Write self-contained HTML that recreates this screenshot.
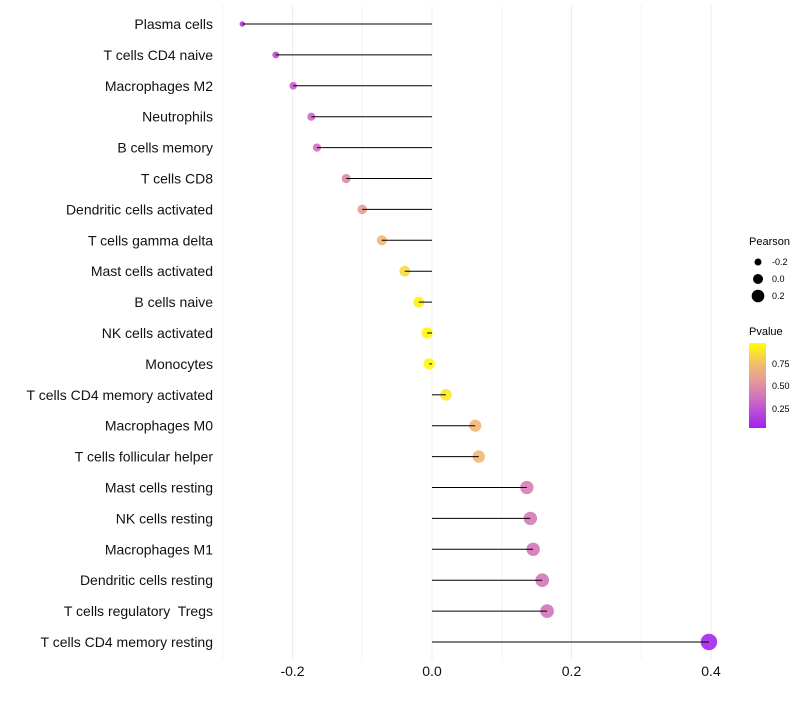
<!DOCTYPE html>
<html><head><meta charset="utf-8"><style>
body{margin:0;background:#fff;font-family:"Liberation Sans",sans-serif;}
</style></head><body>
<svg id="chart" width="800" height="700" xmlns="http://www.w3.org/2000/svg">
<defs><linearGradient id="pg" x1="0" y1="1" x2="0" y2="0">
<stop offset="0" stop-color="#a020f0"/><stop offset="0.35" stop-color="#d070c0"/><stop offset="0.55" stop-color="#e49898"/><stop offset="0.75" stop-color="#f2bc70"/><stop offset="1" stop-color="#ffff00"/></linearGradient></defs>
<g id="grid"></g><g id="marks"></g><g id="labels"></g>
<g font-size="10">
<text x="749" y="245" font-size="11">Pearson</text>
<circle cx="758" cy="262" r="3.5" fill="#000"/><text x="772" y="265" font-size="9">-0.2</text>
<circle cx="758" cy="279" r="5" fill="#000"/><text x="772" y="282" font-size="9">0.0</text>
<circle cx="758" cy="296" r="6.3" fill="#000"/><text x="772" y="299" font-size="9">0.2</text>
</g>
<g>
<text x="749" y="335" font-size="11">Pvalue</text>
<rect x="749" y="343" width="17" height="85" fill="url(#pg)"/>
<text x="772" y="367" font-size="9">0.75</text>
<text x="772" y="389" font-size="9">0.50</text>
<text x="772" y="412" font-size="9">0.25</text>
</g>
</svg>
<script>
const cells=["Plasma cells","T cells CD4 naive","Macrophages M2","Neutrophils","B cells memory","T cells CD8","Dendritic cells activated","T cells gamma delta","Mast cells activated","B cells naive","NK cells activated","Monocytes","T cells CD4 memory activated","Macrophages M0","T cells follicular helper","Mast cells resting","NK cells resting","Macrophages M1","Dendritic cells resting","T cells regulatory  Tregs","T cells CD4 memory resting"];
const pearson=[-0.272,-0.224,-0.199,-0.173,-0.165,-0.123,-0.100,-0.072,-0.039,-0.019,-0.007,-0.004,0.020,0.062,0.067,0.136,0.141,0.145,0.158,0.165,0.397];
const pvalue=[0.15,0.20,0.25,0.32,0.35,0.48,0.57,0.72,0.86,0.95,0.97,0.98,0.92,0.73,0.72,0.42,0.40,0.39,0.38,0.37,0.03];
const ticks=[-0.2,0.0,0.2,0.4];
const minor=[-0.3,-0.1,0.1,0.3];
const NS="http://www.w3.org/2000/svg";
const xs=v=>432+v*697.5;
const ys=i=>24+i*30.9;
const rs=v=>Math.sqrt(Math.max(3,32+90*v));
const stops=[[0,[160,32,240]],[0.35,[208,112,192]],[0.55,[228,152,152]],[0.75,[242,188,112]],[1,[255,255,0]]];
function col(p){for(let k=1;k<stops.length;k++){if(p<=stops[k][0]){const a=stops[k-1],b=stops[k];const t=(p-a[0])/(b[0]-a[0]);
 return `rgb(${a[1].map((c,i)=>Math.round(c+(b[1][i]-c)*t)).join(',')})`;}}return 'rgb(255,255,0)';}
function mk(tag,at,parent){const e=document.createElementNS(NS,tag);for(const k in at)e.setAttribute(k,at[k]);parent.appendChild(e);return e;}
const grid=document.getElementById('grid'),marks=document.getElementById('marks'),labels=document.getElementById('labels');
minor.forEach(t=>{const l=mk('line',{x1:xs(t),x2:xs(t),y1:5,y2:660,stroke:'#f4f4f4','stroke-width':1},grid);

});
ticks.forEach(t=>{const l=mk('line',{x1:xs(t),x2:xs(t),y1:5,y2:660,stroke:'#ededed','stroke-width':1},grid);


const tx=mk('text',{x:xs(t),y:676,'text-anchor':'middle','font-size':14,fill:'#111'},labels);tx.textContent=t.toFixed(1);

});
cells.forEach((c,i)=>{const y=ys(i);
 const pt=mk('circle',{cx:xs(pearson[i]),cy:y,r:rs(pearson[i]),fill:col(pvalue[i]),'fill-opacity':0.9},marks);
 
 
 const ln=mk('line',{x1:xs(0),x2:xs(pearson[i]),y1:y,y2:y,stroke:'#000','stroke-width':1},marks);
 
 
 const tx=mk('text',{x:213,y:y+5,'text-anchor':'end','font-size':14,fill:'#111'},labels);tx.textContent=c;
 
 
 tx.setAttribute('xml:space','preserve');tx.style.whiteSpace='pre';});
</script>
</body></html>
